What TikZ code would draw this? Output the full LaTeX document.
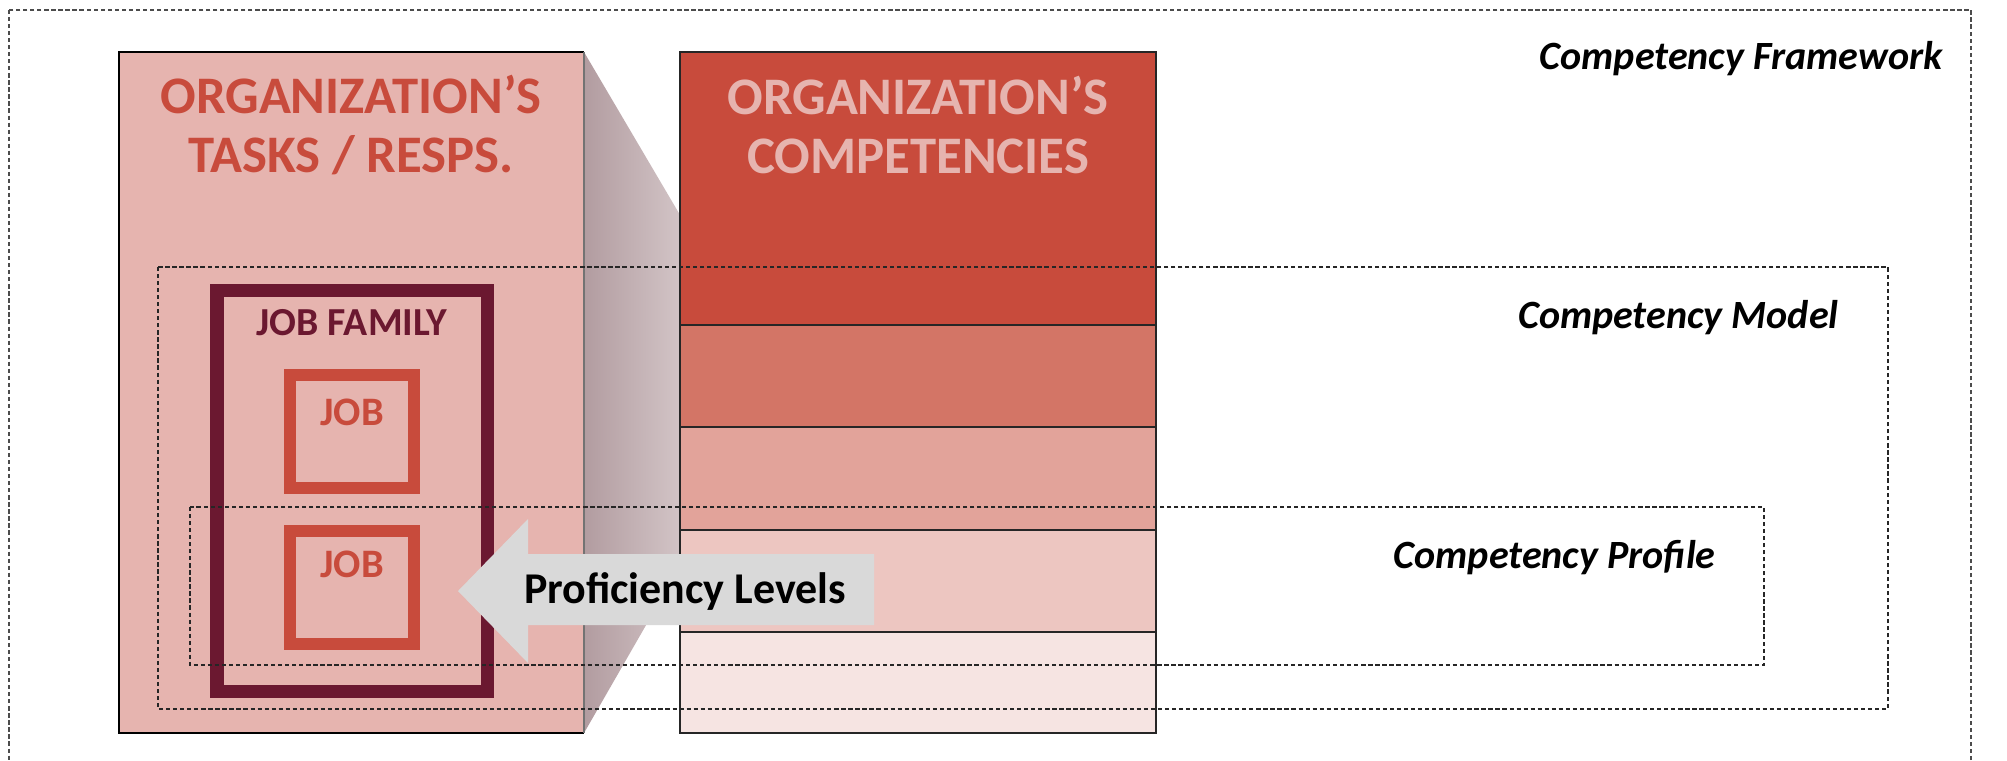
\documentclass[tikz,border=0pt]{standalone}
\usepackage{fontspec}
\setmainfont{Carlito}
\definecolor{brick}{RGB}{200,75,60}
\definecolor{band2}{RGB}{211,117,102}
\definecolor{band3}{RGB}{226,163,154}
\definecolor{band4}{RGB}{237,198,193}
\definecolor{band5}{RGB}{246,228,226}
\definecolor{rose}{RGB}{230,180,175}
\definecolor{wine}{RGB}{107,24,48}
\definecolor{shadeL}{RGB}{178,156,160}
\definecolor{shadeR}{RGB}{210,196,198}
\definecolor{arrowgray}{RGB}{217,217,217}
\begin{document}
\begin{tikzpicture}[x=0.01cm,y=-0.01cm,
  scopebox/.style={draw=black!85, line width=0.35pt, dash pattern=on 1.2pt off 0.8pt},
  band/.style={draw=black!85, line width=0.4pt},
  titletext/.style={font=\fontsize{15}{16.6}\selectfont\bfseries, align=center},
  jobtext/.style={font=\fontsize{11.5}{13}\selectfont\bfseries, text=brick},
  scopelabel/.style={font=\fontsize{11.4}{13}\selectfont\bfseries\itshape, anchor=east}]
  % page
  \fill[white] (0,0) rectangle (2007,760);
  \useasboundingbox (0,0) rectangle (2007,760);

  % framework scope
  \draw[scopebox, draw=black!70] (9,10) rectangle (1971,765);

  % projection from tasks to competencies
  \shade[left color=shadeL, right color=shadeR]
    (584,52) -- (680,215) -- (680,566) -- (584,733) -- cycle;

  % tasks / responsibilities panel
  \fill[rose] (119,52) rectangle (584,733);
  \draw[line width=0.5pt] (584,52) -- (119,52) -- (119,733) -- (584,733);
  \draw[line width=0.5pt, draw=black!55] (584,52) -- (584,733);

  % competency column, five bands
  \filldraw[band, fill=brick] (680,52) rectangle (1156,325);
  \filldraw[band, fill=band2] (680,325) rectangle (1156,427);
  \filldraw[band, fill=band3] (680,427) rectangle (1156,530);
  \filldraw[band, fill=band4] (680,530) rectangle (1156,632);
  \filldraw[band, fill=band5] (680,632) rectangle (1156,733);

  % titles
  \node[titletext, text=brick] (tasks) at (351,125) {ORGANIZATION’S\\TASKS / RESPS.};
  \node[titletext, text=rose] (comps) at (918,125) {ORGANIZATION’S\\COMPETENCIES};

  % job family and jobs
  \draw[wine, line width=3.7pt] (217,290.5) rectangle (487,691);
  \node[font=\fontsize{11.3}{13}\selectfont\bfseries, text=wine] (family) at (352,323) {JOB FAMILY};
  \draw[brick, line width=3.4pt] (290,375) rectangle (414,488);
  \node[jobtext] (job1) at (352,412) {JOB};
  \draw[brick, line width=3.4pt] (290,531) rectangle (414,644);
  \node[jobtext] (job2) at (352,564) {JOB};

  % proficiency levels arrow
  \fill[arrowgray] (458,591) -- (528,519) -- (528,554) -- (874,554)
    -- (874,625) -- (528,625) -- (528,663) -- cycle;
  \node[font=\fontsize{12.5}{14}\selectfont\bfseries] (prof) at (685,591) {Proficiency Levels};

  % model and profile scopes
  \draw[scopebox] (158,267) rectangle (1888,709);
  \draw[scopebox] (190,507) rectangle (1764,665);

  % scope labels
  \node[scopelabel] (fw) at (1955,59) {Competency Framework};
  \node[scopelabel] (model) at (1851,318) {Competency Model};
  \node[scopelabel] (profile) at (1728,558) {Competency Profile};
\end{tikzpicture}
\end{document}
